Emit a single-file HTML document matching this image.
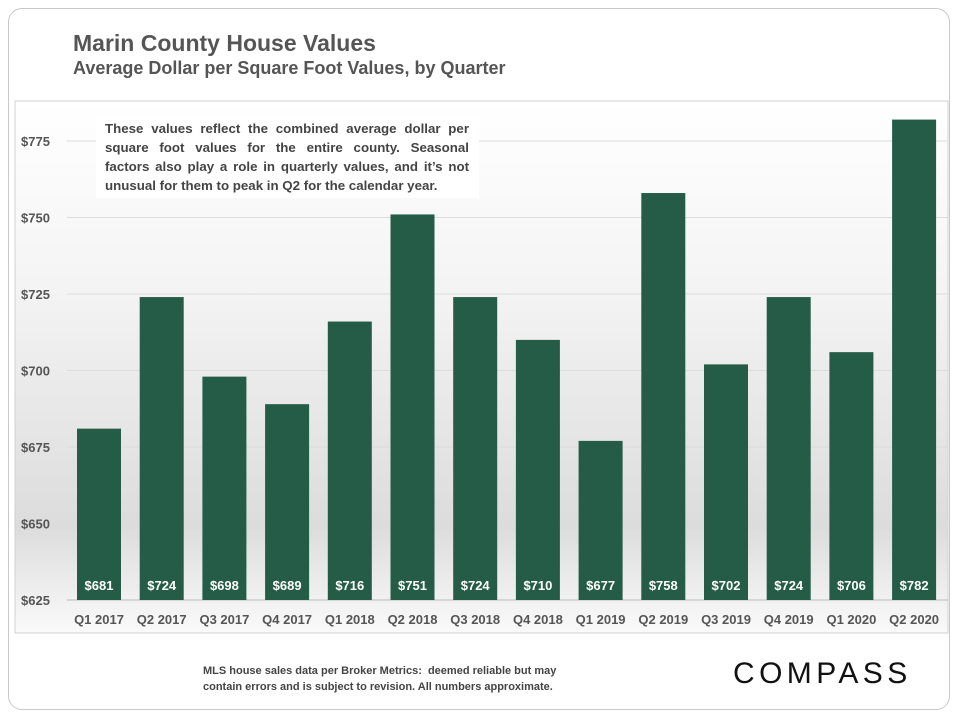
<!DOCTYPE html>
<html><head><meta charset="utf-8"><style>
body{margin:0;width:960px;height:720px;background:#fff;font-family:"Liberation Sans",sans-serif;overflow:hidden}
.card{position:absolute;left:8px;top:8px;width:942px;height:702px;border:1.5px solid #c8c8c8;border-radius:14px;box-sizing:border-box}
.t1{position:absolute;left:73px;top:30px;font-size:23px;font-weight:bold;color:#555}
.t2{position:absolute;left:73px;top:58px;font-size:18px;font-weight:bold;color:#555}
.note{position:absolute;left:96px;top:116px;width:383px;height:82px;background:#fff;font-size:13.3px;font-weight:bold;color:#444;line-height:19px;padding:3px 10px 3px 9px;box-sizing:border-box}
.note span{display:block;text-align:justify;text-align-last:justify;white-space:nowrap}
.note span.last{text-align-last:left}
.foot{position:absolute;left:203px;top:663px;font-size:11px;font-weight:bold;color:#444;line-height:16px}
.logo{position:absolute;left:733px;top:657px;font-size:30px;letter-spacing:4.4px;color:#111}
</style></head><body>
<div class="card"></div>
<div class="t1">Marin County House Values</div>
<div class="t2">Average Dollar per Square Foot Values, by Quarter</div>
<svg id="chart" width="960" height="720" style="position:absolute;left:0;top:0">
<defs><linearGradient id="bg" x1="0" y1="0" x2="0" y2="1">
<stop offset="0" stop-color="#fff"/><stop offset="0.35" stop-color="#f4f4f4"/><stop offset="0.8" stop-color="#dcdcdc"/><stop offset="1" stop-color="#fafafa"/></linearGradient></defs>
<rect x="15" y="101" width="933" height="532" fill="url(#bg)" stroke="#d0d0d0"/>
<g id="grid"></g><g id="bars"></g>
</svg>
<div class="note"><span>These values reflect the combined average dollar per</span><span>square foot values for the entire county. Seasonal</span><span>factors also play a role in quarterly values, and it’s not</span><span class="last">unusual for them to peak in Q2 for the calendar year.</span></div>
<div class="foot">MLS house sales data per Broker Metrics:&nbsp; deemed reliable but may<br>contain errors and is subject to revision. All numbers approximate.</div>
<div class="logo">COMPASS</div>
<script>
const categories=["Q1 2017","Q2 2017","Q3 2017","Q4 2017","Q1 2018","Q2 2018","Q3 2018","Q4 2018","Q1 2019","Q2 2019","Q3 2019","Q4 2019","Q1 2020","Q2 2020"];
const values=[681,724,698,689,716,751,724,710,677,758,702,724,706,782];
const yTicks=[625,650,675,700,725,750,775];
const NS="http://www.w3.org/2000/svg";
const y=v=>600-(v-625)*3.06;
const x=i=>99+i*62.7;
const grid=document.getElementById('grid'),bars=document.getElementById('bars');
function mk(tag,a,p){const e=document.createElementNS(NS,tag);for(const k in a)e.setAttribute(k,a[k]);p.appendChild(e);return e;}
yTicks.forEach(t=>{
 const l=mk('line',{x1:67,x2:948,y1:y(t),y2:y(t),stroke:t===625?'#bbb':'#dcdcdc'},grid);
 
 
 const tx=mk('text',{x:21,y:y(t)+5,'font-size':13,'font-weight':'bold',fill:'#555'},grid);
 tx.textContent='$'+t;
 
 
});
values.forEach((v,i)=>{
 const r=mk('rect',{x:x(i)-22,y:y(v),width:44,height:600-y(v),fill:'#245c48'},bars);
 
 
 const lb=mk('text',{x:x(i),y:590,'text-anchor':'middle','font-size':13,'font-weight':'bold',fill:'#fff'},bars);
 lb.textContent='$'+v;
 
 
 const c=mk('text',{x:x(i),y:624,'text-anchor':'middle','font-size':13,'font-weight':'bold',fill:'#555'},bars);
 c.textContent=categories[i];
 
 
});
</script>
</body></html>
